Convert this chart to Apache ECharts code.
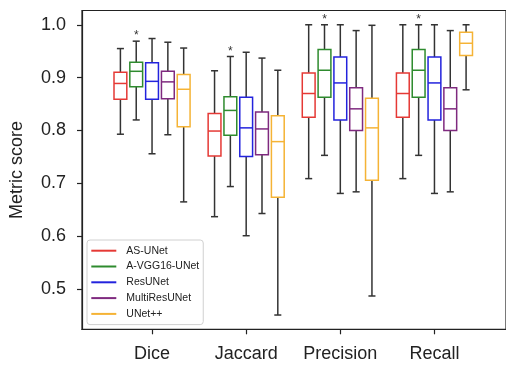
<!DOCTYPE html>
<html>
<head>
<meta charset="utf-8">
<script src="https://cdn.jsdelivr.net/npm/echarts@6/dist/echarts.min.js"></script>
<style>
  html, body { margin: 0; padding: 0; background: #fff; }
  #chart { width: 506px; height: 365px; }
</style>
</head>
<body>
<div id="chart"></div>
<script>
// categories and tick labels
var metrics = ["Dice", "Jaccard", "Precision", "Recall"];
var yTicks = [0.5, 0.6, 0.7, 0.8, 0.9, 1.0];
var models = ["AS-UNet", "A-VGG16-UNet", "ResUNet", "MultiResUNet", "UNet++"];
var colors = ["#e53935", "#2e8b2e", "#2323dd", "#7f2a7f", "#f5b335"];

// box values per metric: [low whisker, Q1, median, Q3, high whisker]
var asUNet = [
  [0.793, 0.859, 0.889, 0.910, 0.955],
  [0.637, 0.752, 0.799, 0.832, 0.913],
  [0.709, 0.825, 0.870, 0.909, 1.000],
  [0.709, 0.825, 0.870, 0.909, 1.000]
];
var aVgg16UNet = [
  [0.820, 0.883, 0.912, 0.929, 0.969],
  [0.694, 0.791, 0.838, 0.864, 0.940],
  [0.753, 0.863, 0.914, 0.953, 1.000],
  [0.753, 0.863, 0.914, 0.953, 1.000]
];
var resUNet = [
  [0.756, 0.859, 0.893, 0.928, 0.974],
  [0.601, 0.751, 0.805, 0.863, 0.948],
  [0.681, 0.820, 0.890, 0.939, 1.000],
  [0.681, 0.820, 0.890, 0.939, 1.000]
];
var multiResUNet = [
  [0.792, 0.860, 0.892, 0.912, 0.967],
  [0.643, 0.754, 0.803, 0.835, 0.937],
  [0.684, 0.800, 0.841, 0.881, 0.989],
  [0.684, 0.800, 0.841, 0.881, 0.989]
];
var unetPP = [
  [0.665, 0.807, 0.878, 0.906, 0.956],
  [0.451, 0.674, 0.779, 0.828, 0.914],
  [0.487, 0.706, 0.805, 0.861, 0.999],
  [0.877, 0.942, 0.965, 0.986, 1.000]
];
// significance marks drawn above A-VGG16-UNet
var sigMarks = ["*", "*", "*", "*"];

var allBoxes = [asUNet, aVgg16UNet, resUNet, multiResUNet, unetPP];

function makeRender(si) {
  return function (params, api) {
    var x = api.value(0);
    var lo = api.coord([x, api.value(1)]);
    var q1 = api.coord([x, api.value(2)]);
    var md = api.coord([x, api.value(3)]);
    var q3 = api.coord([x, api.value(4)]);
    var hi = api.coord([x, api.value(5)]);
    var band = api.size([1, 0])[0];
    var cx = lo[0] + (si - 2) * band * 0.168;
    var bw = band * 0.136;
    var cw = bw * 0.55;
    var wStyle = { stroke: "#333", lineWidth: 1.5 };
    var bStyle = { stroke: colors[si], lineWidth: 1.5, fill: "#fff" };
    var kids = [
      { type: "line", shape: { x1: cx, y1: q3[1], x2: cx, y2: hi[1] }, style: wStyle },
      { type: "line", shape: { x1: cx, y1: q1[1], x2: cx, y2: lo[1] }, style: wStyle },
      { type: "line", shape: { x1: cx - cw / 2, y1: hi[1], x2: cx + cw / 2, y2: hi[1] }, style: wStyle },
      { type: "line", shape: { x1: cx - cw / 2, y1: lo[1], x2: cx + cw / 2, y2: lo[1] }, style: wStyle },
      { type: "rect", shape: { x: cx - bw / 2, y: q3[1], width: bw, height: q1[1] - q3[1] }, style: bStyle },
      { type: "line", shape: { x1: cx - bw / 2, y1: md[1], x2: cx + bw / 2, y2: md[1] }, style: { stroke: colors[si], lineWidth: 1.5 } }
    ];
    if (si === 1) {
      kids.push({
        type: "text",
        style: {
          text: sigMarks[params.dataIndex], x: cx, y: hi[1] + 1,
          align: "center", verticalAlign: "bottom",
          fill: "#333", fontSize: 12, fontFamily: "Liberation Sans"
        }
      });
    }
    return { type: "group", children: kids };
  };
}

var series = models.map(function (name, si) {
  return {
    name: name,
    type: "custom",
    renderItem: makeRender(si),
    itemStyle: { color: colors[si] },
    encode: { x: 0, y: [1, 2, 3, 4, 5] },
    clip: false,
    data: allBoxes[si].map(function (b, i) {
      return [i + 1].concat(b);
    })
  };
});

var chart = echarts.init(document.getElementById("chart"));
var option = {
  animation: false,
  textStyle: { fontFamily: "Liberation Sans" },
  grid: {
    left: 81, top: 10.5, width: 430, height: 318.8,
    show: true, borderColor: "#222", borderWidth: 1.2
  },
  legend: {
    orient: "vertical",
    left: 87, top: 240,
    padding: [4.2, 4, 4.2, 4.3],
    itemGap: 2.8,
    itemWidth: 25, itemHeight: 2,
    icon: "rect",
    borderColor: "#d0d0d0", borderWidth: 1, borderRadius: 3,
    backgroundColor: "rgba(255,255,255,0.85)",
    textStyle: { fontSize: 10.5, lineHeight: 13, color: "#222", padding: [0, 0, 0, 5] },
    data: models
  },
  xAxis: {
    type: "value",
    min: 0.256, max: 4.76,
    axisLine: { show: true, lineStyle: { color: "#222", width: 1.2 } },
    axisTick: { show: true, customValues: [1, 2, 3, 4], length: 5, lineStyle: { color: "#222", width: 1.2 } },
    axisLabel: {
      customValues: [1, 2, 3, 4],
      formatter: function (v) { return metrics[Math.round(v) - 1]; },
      fontSize: 18, color: "#222", margin: 16
    },
    splitLine: { show: false }
  },
  yAxis: {
    type: "value",
    min: 0.424, max: 1.027,
    name: "Metric score",
    nameLocation: "middle",
    nameGap: 56,
    nameTextStyle: { fontSize: 18, color: "#222" },
    axisLine: { show: true, lineStyle: { color: "#222", width: 1.2 } },
    axisTick: { show: true, customValues: yTicks, length: 5, lineStyle: { color: "#222", width: 1.2 } },
    axisLabel: {
      customValues: yTicks,
      formatter: function (v) { return v.toFixed(1); },
      fontSize: 18, color: "#222", margin: 16
    },
    splitLine: { show: false }
  },
  series: series
};
chart.setOption(option);
</script>
</body>
</html>
